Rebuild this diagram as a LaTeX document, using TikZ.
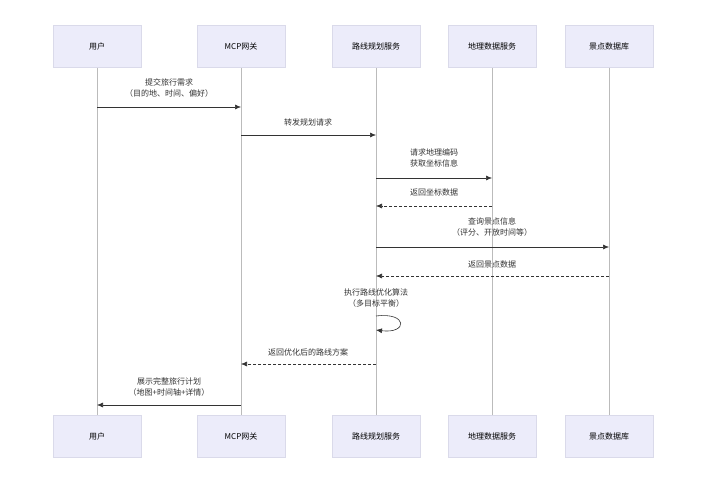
\documentclass[tikz,border=0pt]{standalone}
\usepackage{fontspec}
\setmainfont{Noto Sans CJK SC}
\usetikzlibrary{arrows.meta}
\definecolor{boxfill}{HTML}{ECECFA}
\definecolor{boxline}{HTML}{DADAEA}
\definecolor{lifeline}{HTML}{BBBBBB}
\tikzset{
  actor/.style={draw=boxline, fill=boxfill, minimum width=88pt, minimum height=42pt, font=\fontsize{8}{10}\selectfont},
  msg/.style={-{Latex[length=6pt,width=5pt]}, draw=black!80, line width=0.6pt},
  reply/.style={msg, densely dashed},
  lbl/.style={font=\fontsize{8}{11}\selectfont, align=center, text=black!80}
}
\begin{document}
\begin{tikzpicture}[x=1pt, y=-1pt]
\useasboundingbox (0,0) rectangle (727,500);
\fill[white] (0,0) rectangle (727,500);
% participants, top and bottom
\foreach \n/\x/\t in {user/97/用户, gw/241/MCP网关, route/376/路线规划服务, geo/492/地理数据服务, poi/609/景点数据库}{
  \draw[lifeline, line width=0.6pt] (\x,67) -- (\x,416);
  \node[actor] (\n) at (\x,46) {\t};
  \node[actor] (\n b) at (\x,436) {\t};
}
% messages
\coordinate (a1) at (97,107);  \coordinate (b1) at (241,107);
\coordinate (a2) at (241,135); \coordinate (b2) at (376,135);
\coordinate (a3) at (376,178); \coordinate (b3) at (492,178);
\coordinate (a4) at (492,206); \coordinate (b4) at (376,206);
\coordinate (a5) at (376,247); \coordinate (b5) at (609,247);
\coordinate (a6) at (609,276); \coordinate (b6) at (376,276);
\coordinate (a8) at (376,364); \coordinate (b8) at (241,364);
\coordinate (a9) at (241,405); \coordinate (b9) at (97,405);
\draw[msg] (a1) -- (b1);
\node[lbl] at (169,88) {提交旅行需求\\（目的地、时间、偏好）};
\draw[msg] (a2) -- (b2);
\node[lbl] at (308,122) {转发规划请求};
\draw[msg] (a3) -- (b3);
\node[lbl] at (434,158) {请求地理编码\\获取坐标信息};
\draw[reply] (a4) -- (b4);
\node[lbl] at (434,192) {返回坐标数据};
\draw[msg] (a5) -- (b5);
\node[lbl] at (492,227) {查询景点信息\\（评分、开放时间等）};
\draw[reply] (a6) -- (b6);
\node[lbl] at (492,264) {返回景点数据};
% self call
\node[lbl] at (376,298) {执行路线优化算法\\（多目标平衡）};
\coordinate (s1) at (376,316); \coordinate (s2) at (376,330);
\draw[msg] (s1) .. controls (408,312) and (408,334) .. (s2);
\draw[reply] (a8) -- (b8);
\node[lbl] at (308,352) {返回优化后的路线方案};
\draw[msg] (a9) -- (b9);
\node[lbl] at (169,387) {展示完整旅行计划\\（地图+时间轴+详情）};
\end{tikzpicture}
\end{document}
